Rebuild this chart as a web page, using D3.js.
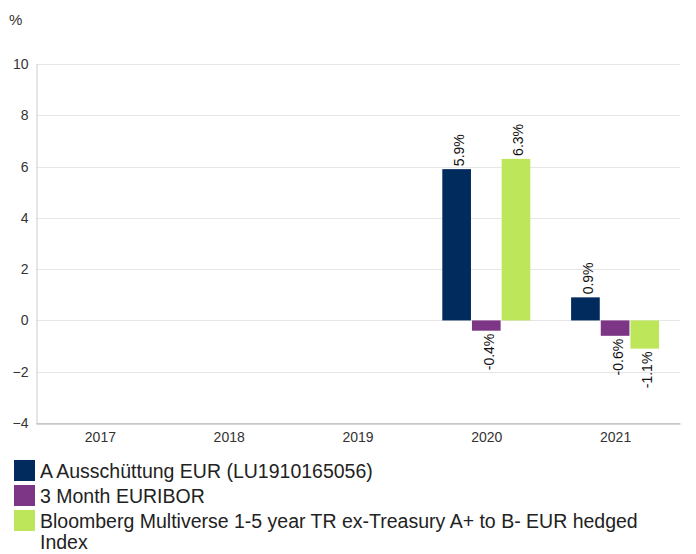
<!DOCTYPE html>
<html>
<head>
<meta charset="utf-8">
<script src="https://cdn.jsdelivr.net/npm/d3@7"></script>
<style>
  body { margin: 0; background: #fff; font-family: "Liberation Sans", Arial, sans-serif; }
</style>
</head>
<body>
<script>
const years = ["2017", "2018", "2019", "2020", "2021"];
const seriesNames = [
    "A Ausschüttung EUR (LU1910165056)",
    "3 Month EURIBOR",
    "Bloomberg Multiverse 1-5 year TR ex-Treasury A+ to B- EUR hedged Index"
];
const seriesColors = ["#002b5c", "#7d3585", "#bde65a"];
const fundValues = [null, null, null, 5.9, 0.9];
const euriborValues = [null, null, null, -0.4, -0.6];
const indexValues = [null, null, null, 6.3, -1.1];
const yTicks = [-4, -2, 0, 2, 4, 6, 8, 10];

const allSeries = [fundValues, euriborValues, indexValues];

const width = 696, height = 554;
const svg = d3.select("body").append("svg")
    .attr("width", width)
    .attr("height", height);

const x = d3.scaleBand()
    .domain(years)
    .range([36, 680]);

const xInner = d3.scaleBand()
    .domain(d3.range(seriesNames.length))
    .range([0, 89]);

const y = d3.scaleLinear()
    .domain([-4, 10])
    .range([423, 64]);

// gridlines
svg.append("g")
    .selectAll("line")
    .data(yTicks)
    .join("line")
    .attr("x1", 36)
    .attr("x2", 680)
    .attr("y1", d => Math.round(y(d)) + 0.5)
    .attr("y2", d => Math.round(y(d)) + 0.5)
    .attr("stroke", "#e6e6e6");

// y axis
const yAxis = svg.append("g")
    .attr("transform", "translate(36.5,0)")
    .call(d3.axisLeft(y).tickValues(yTicks).tickSize(0).tickPadding(8));
yAxis.select(".domain").attr("stroke", "#ccc");
yAxis.selectAll("text")
    .style("font-family", "Liberation Sans, Arial, sans-serif")
    .style("font-size", "14px")
    .attr("fill", "#333");

// x axis
const xAxis = svg.append("g")
    .attr("transform", "translate(0," + (Math.round(y(-4)) + 0.5) + ")")
    .call(d3.axisBottom(x).tickSize(0).tickPadding(9));
xAxis.select(".domain").attr("stroke", "#aaa");
xAxis.selectAll("text")
    .style("font-family", "Liberation Sans, Arial, sans-serif")
    .style("font-size", "14px")
    .attr("fill", "#333");

// unit label
svg.append("text")
    .attr("x", 9)
    .attr("y", 25)
    .style("font-size", "15px")
    .attr("fill", "#333")
    .text("%");

// bars
allSeries.forEach((vals, si) => {
    const data = years.map((yr, i) => ({ year: yr, value: vals[i] }))
        .filter(d => d.value !== null);
    const g = svg.append("g");
    g.selectAll("rect")
        .data(data)
        .join("rect")
        .attr("x", d => x(d.year) + (x.bandwidth() - 89) / 2 + xInner(si))
        .attr("width", xInner.bandwidth() - 1)
        .attr("y", d => y(Math.max(0, d.value)))
        .attr("height", d => Math.abs(y(d.value) - y(0)))
        .attr("fill", seriesColors[si]);

    g.selectAll("text")
        .data(data)
        .join("text")
        .attr("transform", d => {
            const cx = x(d.year) + (x.bandwidth() - 89) / 2 + xInner(si) + xInner.bandwidth() / 2 + 7;
            const cy = d.value >= 0 ? y(d.value) - 3 : y(d.value) + 3;
            return "translate(" + cx + "," + cy + ") rotate(-90)";
        })
        .attr("text-anchor", d => d.value >= 0 ? "start" : "end")
        .style("font-size", "14px")
        .attr("fill", "#111")
        .text(d => d.value.toFixed(1) + "%");
});

// legend
const legend = svg.append("g");
const legendRows = [
    { y: 460, lines: [seriesNames[0]] },
    { y: 485, lines: [seriesNames[1]] },
    { y: 510, lines: ["Bloomberg Multiverse 1-5 year TR ex-Treasury A+ to B- EUR hedged", "Index"] }
];
legendRows.forEach((row, i) => {
    legend.append("rect")
        .attr("x", 14)
        .attr("y", row.y)
        .attr("width", 21)
        .attr("height", 21)
        .attr("fill", seriesColors[i]);
    row.lines.forEach((ln, j) => {
        legend.append("text")
            .attr("x", 40)
            .attr("y", row.y + 18 + j * 21)
            .style("font-size", "19.5px")
            .attr("fill", "#222")
            .text(ln);
    });
});
</script>
</body>
</html>
